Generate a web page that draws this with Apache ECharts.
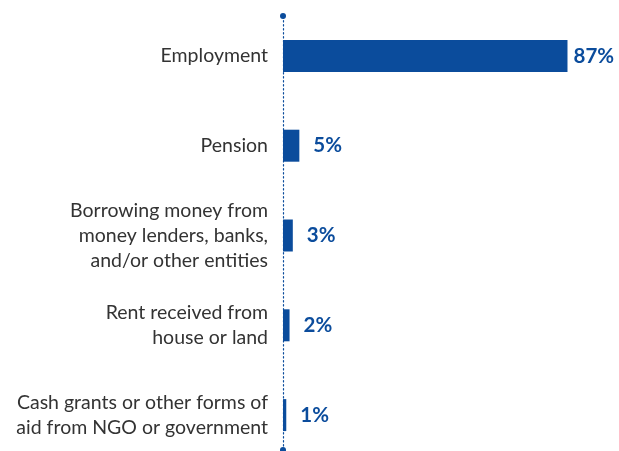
<!DOCTYPE html>
<html>
<head>
<meta charset="utf-8">
<script src="https://cdn.jsdelivr.net/npm/echarts@6/dist/echarts.min.js"></script>
<style>
  html, body { margin: 0; padding: 0; background: #ffffff; }
  #chart { width: 619px; height: 451px; }
</style>
</head>
<body>
<div id="chart"></div>
<script>
// Sources of household income, share of respondents (%)
const categories = [
  'Employment',
  'Pension',
  'Borrowing money from\nmoney lenders, banks,\nand/or other entities',
  'Rent received from\nhouse or land',
  'Cash grants or other forms of\naid from NGO or government'
];
const shares = [87, 5, 3, 2, 1];

const blue = '#0b4c9c';
const font = 'Lato, "Open Sans", sans-serif';

const chart = echarts.init(document.getElementById('chart'));
chart.setOption({
  animation: false,
  grid: [
    // bar area: the last band runs a little past the bottom edge
    { left: 283, top: 11, width: 327, height: 449, outerBoundsMode: 'none', containLabel: false },
    // dotted axis line with round end caps
    { left: 283, top: 16, width: 327, bottom: 1, outerBoundsMode: 'none', containLabel: false }
  ],
  xAxis: [
    { gridIndex: 0, type: 'value', min: 0, max: 100, show: false },
    { gridIndex: 1, type: 'value', min: 0, max: 100, show: false }
  ],
  yAxis: [
    {
      gridIndex: 0,
      type: 'category',
      data: categories,
      inverse: true,
      axisLine: { show: false },
      axisTick: { show: false },
      splitLine: { show: false },
      axisLabel: {
        margin: 15,
        color: '#333333',
        fontFamily: font,
        fontSize: 19.5,
        lineHeight: 25,
        align: 'right'
      }
    },
    {
      gridIndex: 1,
      type: 'value',
      axisLabel: { show: false },
      axisTick: { show: false },
      splitLine: { show: false },
      axisLine: {
        show: true,
        symbol: ['circle', 'circle'],
        symbolSize: [6, 6],
        lineStyle: { color: blue, width: 1.2, type: [1.5, 2.5] }
      }
    }
  ],
  series: [{
    type: 'bar',
    xAxisIndex: 0,
    yAxisIndex: 0,
    barWidth: 32,
    itemStyle: { color: blue },
    data: shares.map((v, i) => ({
      value: v,
      label: { distance: i === 0 ? 6 : 14 }
    })),
    label: {
      show: true,
      position: 'right',
      formatter: '{c}%',
      color: blue,
      fontFamily: font,
      fontWeight: 'bold',
      fontSize: 20.5
    }
  }]
});
</script>
</body>
</html>
